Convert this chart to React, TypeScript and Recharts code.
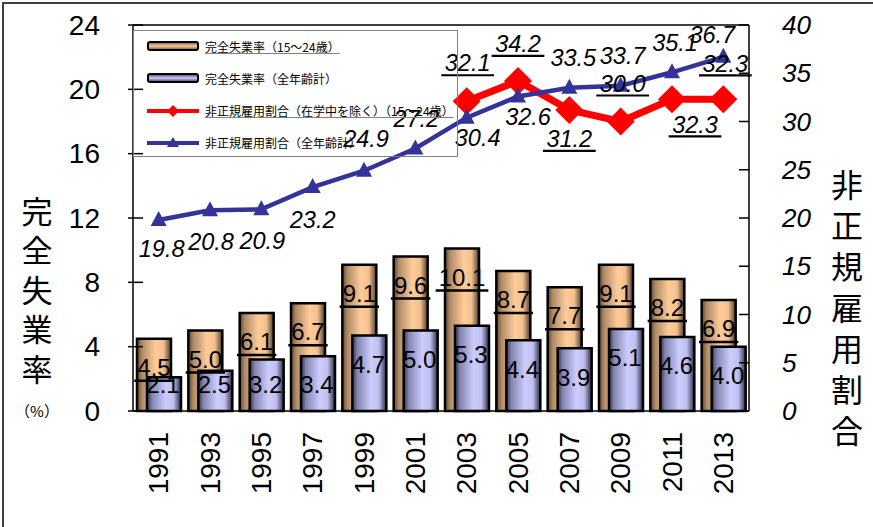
import { Bar, ComposedChart, LabelList, Legend, Line, ReferenceLine, XAxis, YAxis } from "recharts"

const years = ["1991", "1993", "1995", "1997", "1999", "2001", "2003", "2005", "2007", "2009", "2011", "2013"]
const youthUnemployment = [4.5, 5.0, 6.1, 6.7, 9.1, 9.6, 10.1, 8.7, 7.7, 9.1, 8.2, 6.9]
const allUnemployment = [2.1, 2.5, 3.2, 3.4, 4.7, 5.0, 5.3, 4.4, 3.9, 5.1, 4.6, 4.0]
const youthNonRegular = [null, null, null, null, null, null, 32.1, 34.2, 31.2, 30.0, 32.3, 32.3]
const allNonRegular = [19.8, 20.8, 20.9, 23.2, 24.9, 27.2, 30.4, 32.6, 33.5, 33.7, 35.1, 36.7]

const leftTicks = [0, 4, 8, 12, 16, 20, 24]
const rightTicks = [0, 5, 10, 15, 20, 25, 30, 35, 40]

// label placement (dx, dy from point to label centre), as in the original
const allLabelOffsets = [[3, 29], [1, 31], [1, 31], [0, 33], [2, -32], [1, -30], [11, 20], [10, 20], [4, -30], [2, -30], [3, -30], [-11, -22]]
const youthLabelOffsets = [[0, 0], [0, 0], [0, 0], [0, 0], [0, 0], [0, 0], [1, -38], [0, -37], [0, 29], [2, -38], [23, 25], [2, -36]]

const data = years.map((year, i) => ({
  year,
  youth: youthUnemployment[i],
  all: allUnemployment[i],
  youthNR: youthNonRegular[i],
  allNR: allNonRegular[i],
}))

const NUM = "'Liberation Sans', Arial, sans-serif"
const JP = "'Noto Sans CJK JP', sans-serif"

function textWidth(s: string, fs: number) {
  let w = 0
  for (const c of s) w += c === "." ? 0.278 : 0.556
  return w * fs
}

function box(props: any) {
  const vb = props.viewBox || {}
  return {
    x: props.x ?? vb.x,
    y: props.y ?? vb.y,
    width: props.width ?? vb.width ?? 0,
    height: props.height ?? vb.height ?? 0,
  }
}

function YouthBarLabel(props: any) {
  const { x, y, width } = box(props)
  const s = Number(props.value).toFixed(1)
  const cx = x + width / 2
  const base = y + 37
  const w = textWidth(s, 24)
  return (
    <g>
      <text x={cx} y={base} textAnchor="middle" fontSize={24} fontFamily={NUM} fill="#000">{s}</text>
      <line x1={cx - w / 2 - 3} x2={cx + w / 2 + 3} y1={base + 5} y2={base + 5} stroke="#000" strokeWidth={2.5} />
    </g>
  )
}

function AllBarLabel(props: any) {
  const { x, y, width, height } = box(props)
  const s = Number(props.value).toFixed(1)
  const cy = Math.min(y + 29, y + height - 26)
  return (
    <text x={x + width / 2 - 1} y={cy} dy="0.35em" textAnchor="middle" fontSize={24} fontFamily={NUM} fill="#000">{s}</text>
  )
}

function lineLabel(offsets: number[][], underline: boolean) {
  return (props: any) => {
    const { x, y } = box(props)
    if (props.value == null || x == null || y == null) return null
    const [dx, dy] = offsets[props.index] || [0, 0]
    const s = Number(props.value).toFixed(1)
    const cx = x + dx
    const cy = y + dy
    const w = textWidth(s, 23.5) + 3
    return (
      <g>
        <text x={cx} y={cy} dy="0.35em" textAnchor="middle" fontSize={23.5} fontStyle="italic" fontFamily={NUM} fill="#000">{s}</text>
        {underline && <line x1={cx - w / 2 - 2} x2={cx + w / 2 + 2} y1={cy + 12} y2={cy + 12} stroke="#000" strokeWidth={2.2} />}
      </g>
    )
  }
}

function Diamond(props: any) {
  const { cx, cy, index } = props
  if (cx == null || cy == null || props.value == null) return <g key={`d${index}`} />
  const r = 14
  return <polygon key={`d${index}`} points={`${cx},${cy - r} ${cx + r},${cy} ${cx},${cy + r} ${cx - r},${cy}`} fill="#ff0000" />
}

function Triangle(props: any) {
  const { cx, cy, index } = props
  if (cx == null || cy == null) return <g key={`t${index}`} />
  return <polygon key={`t${index}`} points={`${cx},${cy - 9} ${cx + 8},${cy + 6} ${cx - 8},${cy + 6}`} fill="#333399" />
}

function LeftTick(props: any) {
  const { x, y, payload } = props
  return (
    <g>
      <line x1={x + 28} x2={x + 43} y1={y} y2={y} stroke="#000" strokeWidth={1.5} />
      <text x={x} y={y} dy="0.35em" textAnchor="end" fontSize={28} fontFamily={NUM} fill="#000">{payload.value}</text>
    </g>
  )
}

function RightTick(props: any) {
  const { x, y, payload } = props
  return (
    <g>
      <line x1={x - 43} x2={x - 33} y1={y} y2={y} stroke="#000" strokeWidth={1.5} />
      <text x={x} y={y} dy="0.35em" textAnchor="start" fontSize={26} fontStyle="italic" fontFamily={NUM} fill="#000">{payload.value}</text>
    </g>
  )
}

function YearTick(props: any) {
  const { x, y, payload } = props
  return (
    <text transform={`translate(${x},${y + 21}) rotate(-90)`} textAnchor="end" dominantBaseline="central" fontSize={28} fontFamily={NUM} fill="#000">
      {payload.value}
    </text>
  )
}

function LeftTitle(props: any) {
  const vb = props.viewBox || { x: 0 }
  const chars = ["完", "全", "失", "業", "率"]
  return (
    <g>
      {chars.map((c, i) => (
        <text key={c} x={vb.x + 37} y={212 + i * 39.5} dy="0.35em" textAnchor="middle" fontSize={31} fontFamily={JP} fill="#000">{c}</text>
      ))}
      <text x={vb.x + 37} y={412} dy="0.35em" textAnchor="middle" fontSize={15} fontFamily={JP} fill="#000">（%）</text>
    </g>
  )
}

function RightTitle(props: any) {
  const vb = props.viewBox || { x: 749 }
  const chars = ["非", "正", "規", "雇", "用", "割", "合"]
  return (
    <g>
      {chars.map((c, i) => (
        <text key={c} x={vb.x + 98} y={186 + i * 41} dy="0.35em" textAnchor="middle" fontSize={32} fontFamily={JP} fill="#000">{c}</text>
      ))}
    </g>
  )
}

const legendRows = [
  { label: "完全失業率（15～24歳）", kind: "bar", fill: "url(#legO)", underline: true },
  { label: "完全失業率（全年齢計）", kind: "bar", fill: "url(#legB)", underline: false },
  { label: "非正規雇用割合（在学中を除く）（15～24歳）", kind: "diamond", fill: "#ff0000", underline: true },
  { label: "非正規雇用割合（全年齢計）", kind: "triangle", fill: "#333399", underline: false },
]

function LegendBox() {
  return (
    <div style={{ position: "relative", width: 325, height: 127, border: "1.5px solid #808080", boxSizing: "border-box" }}>
      <svg width={0} height={0} style={{ position: "absolute" }}>
        <defs>
          <linearGradient id="legO" x1="0" y1="0" x2="0" y2="1">
            <stop offset="0" stopColor="#6b5138" />
            <stop offset="0.5" stopColor="#ffcc99" />
            <stop offset="1" stopColor="#6b5138" />
          </linearGradient>
          <linearGradient id="legB" x1="0" y1="0" x2="0" y2="1">
            <stop offset="0" stopColor="#3c3c5a" />
            <stop offset="0.5" stopColor="#ccccff" />
            <stop offset="1" stopColor="#3c3c5a" />
          </linearGradient>
        </defs>
      </svg>
      {legendRows.map((r, i) => (
        <div key={r.label} style={{ position: "absolute", left: 12, top: 15 + i * 32.3 - 9, height: 18, display: "flex", alignItems: "center" }}>
          <svg width={54} height={18}>
            {r.kind === "bar" && <rect x={2} y={5} width={50} height={8} rx={2} fill={r.fill} stroke="#000" strokeWidth={2} />}
            {r.kind === "diamond" && (
              <g>
                <line x1={1} x2={53} y1={9} y2={9} stroke="#ff0000" strokeWidth={4} />
                <polygon points="27,3 33,9 27,15 21,9" fill="#ff0000" />
              </g>
            )}
            {r.kind === "triangle" && (
              <g>
                <line x1={1} x2={53} y1={9} y2={9} stroke="#333399" strokeWidth={4} />
                <polygon points="27,3 33,13 21,13" fill="#333399" />
              </g>
            )}
          </svg>
          <span
            style={{
              marginLeft: 5,
              fontFamily: JP,
              fontSize: 12,
              color: "#000",
              whiteSpace: "nowrap",
              textDecoration: r.underline ? "underline" : "none",
              textDecorationColor: "#808080",
            }}
          >
            {r.label}
          </span>
        </div>
      ))}
    </div>
  )
}

export default function App() {
  return (
    <div style={{ position: "absolute", left: 0, top: 0, width: 873, height: 527, background: "#fff", overflow: "hidden" }}>
      <div style={{ position: "absolute", left: 2, top: 2, width: 880, height: 540, borderTop: "2px solid #404040", borderLeft: "2px solid #404040" }} />
      <ComposedChart width={873} height={527} data={data} margin={{ top: 25, right: 0, bottom: 0, left: 0 }} barSize={34} barGap={-24}>
        <defs>
          <linearGradient id="gradO" x1="0" y1="0" x2="1" y2="0">
            <stop offset="0" stopColor="#5e4630" />
            <stop offset="0.15" stopColor="#b08b66" />
            <stop offset="0.55" stopColor="#ffcc99" />
            <stop offset="0.78" stopColor="#f2c08f" />
            <stop offset="1" stopColor="#4f3c2a" />
          </linearGradient>
          <linearGradient id="gradB" x1="0" y1="0" x2="1" y2="0">
            <stop offset="0" stopColor="#33334f" />
            <stop offset="0.15" stopColor="#8585b0" />
            <stop offset="0.55" stopColor="#ccccff" />
            <stop offset="0.78" stopColor="#bfbff0" />
            <stop offset="1" stopColor="#2b2b44" />
          </linearGradient>
        </defs>
        <XAxis dataKey="year" height={116} interval={0} tickSize={0} tickMargin={0} tick={<YearTick />} axisLine={{ stroke: "#000", strokeWidth: 1.5 }} />
        <YAxis
          yAxisId="left"
          width={133}
          domain={[0, 24]}
          ticks={leftTicks}
          tickSize={0}
          tickMargin={33}
          tick={<LeftTick />}
          axisLine={{ stroke: "#000", strokeWidth: 1.5 }}
          label={<LeftTitle />}
        />
        <YAxis
          yAxisId="right"
          orientation="right"
          width={124}
          domain={[0, 40]}
          ticks={rightTicks}
          tickSize={0}
          tickMargin={33}
          tick={<RightTick />}
          axisLine={{ stroke: "#000", strokeWidth: 1.5 }}
          label={<RightTitle />}
        />
        <ReferenceLine yAxisId="left" y={24} stroke="#000" strokeWidth={1.5} />
        <Legend
          layout="vertical"
          align="center"
          verticalAlign="middle"
          content={<LegendBox />}
          wrapperStyle={{ left: 133, top: 30, width: 325, height: 127 }}
        />
        <Bar yAxisId="left" dataKey="youth" fill="url(#gradO)" stroke="#000" strokeWidth={2.5} isAnimationActive={false}>
          <LabelList dataKey="youth" content={<YouthBarLabel />} />
        </Bar>
        <Bar yAxisId="left" dataKey="all" fill="url(#gradB)" stroke="#000" strokeWidth={2.5} isAnimationActive={false}>
          <LabelList dataKey="all" content={<AllBarLabel />} />
        </Bar>
        <Line
          yAxisId="right"
          dataKey="youthNR"
          stroke="#ff0000"
          strokeWidth={7}
          dot={Diamond}
          activeDot={false}
          isAnimationActive={false}
        >
          <LabelList dataKey="youthNR" content={lineLabel(youthLabelOffsets, true)} />
        </Line>
        <Line
          yAxisId="right"
          dataKey="allNR"
          stroke="#333399"
          strokeWidth={4.5}
          dot={Triangle}
          activeDot={false}
          isAnimationActive={false}
        >
          <LabelList dataKey="allNR" content={lineLabel(allLabelOffsets, false)} />
        </Line>
      </ComposedChart>
    </div>
  )
}
